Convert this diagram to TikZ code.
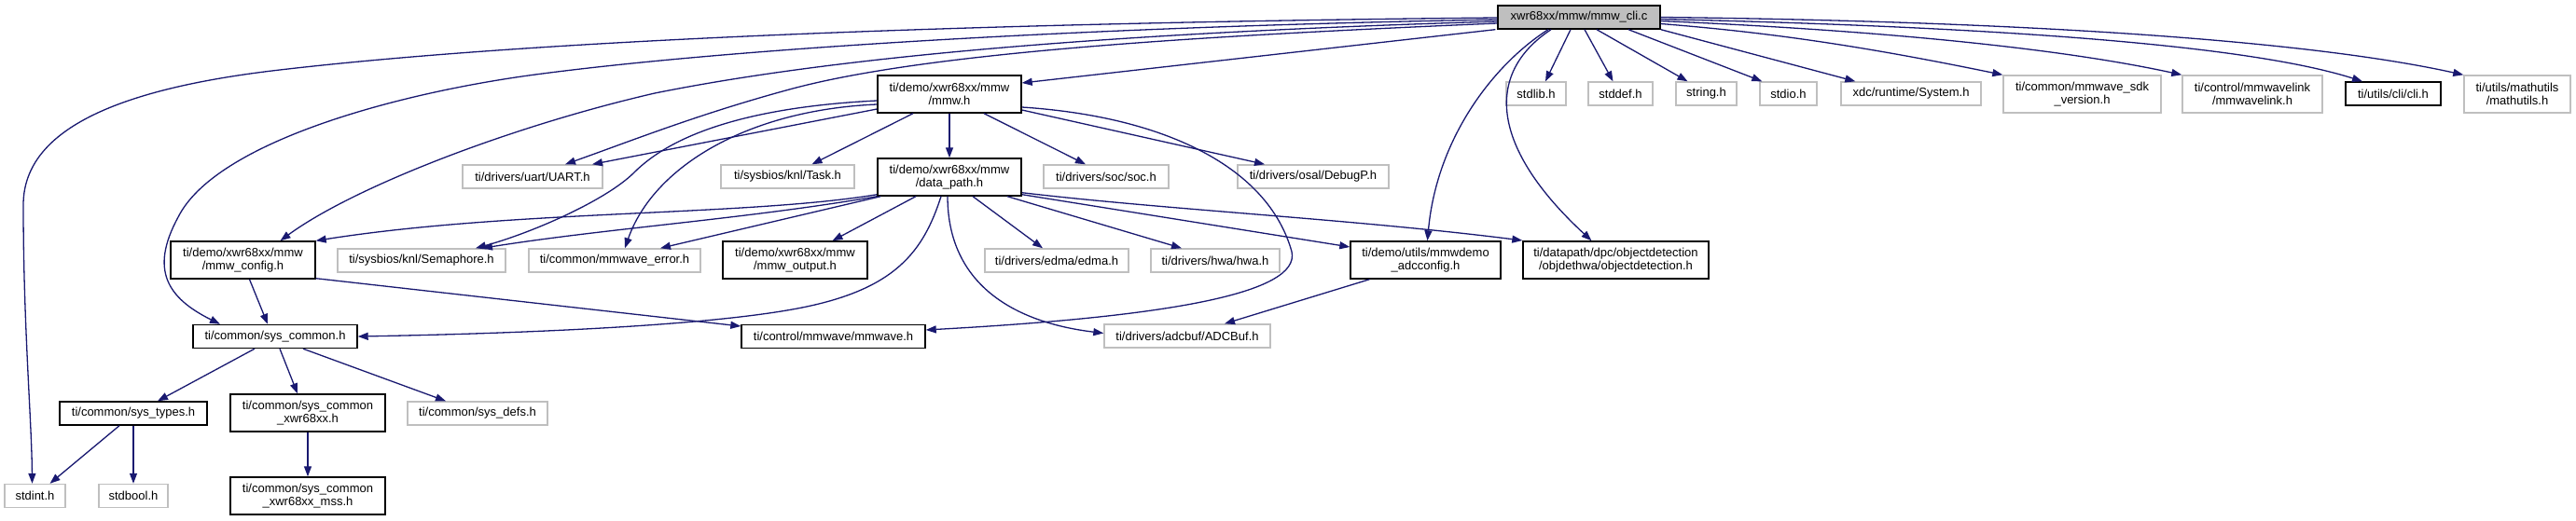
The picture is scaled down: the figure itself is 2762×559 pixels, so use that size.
\documentclass[tikz,border=0pt]{standalone}
\usepackage{fontspec}
\setmainfont{Liberation Sans}
\usetikzlibrary{arrows.meta,calc}
\definecolor{edgecol}{HTML}{191970}
\definecolor{greyb}{HTML}{BFBFBF}
\tikzset{
  box/.style={draw, line width=1.4pt, inner sep=0pt, align=center, fill=white,
    font=\fontsize{13}{14.5}\selectfont, text=black},
  doc/.style={box, draw=black},
  ext/.style={box, draw=greyb},
  root/.style={box, draw=black, fill=greyb},
  edge/.style={draw=edgecol, line width=1.3pt, -{Triangle[length=11pt,width=8pt]}},
}
\begin{document}
\begin{tikzpicture}[x=1pt,y=-1pt]
\useasboundingbox (0,0) rectangle (2762,559);
% row 0
\node[root, minimum width=174pt, minimum height=25pt] (cli) at (1693,18.5) {xwr68xx/mmw/mmw\_cli.c};
% row 1
\node[ext, minimum width=64pt, minimum height=25pt] (stdlib) at (1647,100.5) {stdlib.h};
\node[ext, minimum width=69pt, minimum height=25pt] (stddef) at (1737.5,100.5) {stddef.h};
\node[ext, minimum width=65pt, minimum height=25pt] (string) at (1829.5,100.5) {string.h};
\node[ext, minimum width=61pt, minimum height=25pt] (stdio) at (1917.5,100.5) {stdio.h};
\node[ext, minimum width=150pt, minimum height=25pt] (system) at (2049,100.5) {xdc/runtime/System.h};
\node[ext, minimum width=169pt, minimum height=40pt] (sdkver) at (2232.5,101) {ti/common/mmwave\_sdk\\\_version.h};
\node[ext, minimum width=150pt, minimum height=40pt] (mmwlink) at (2415,101) {ti/control/mmwavelink\\/mmwavelink.h};
\node[doc, minimum width=102pt, minimum height=25pt] (clih) at (2566,100.5) {ti/utils/cli/cli.h};
\node[ext, minimum width=114pt, minimum height=40pt] (mathutils) at (2699,101) {ti/utils/mathutils\\/mathutils.h};
\node[doc, minimum width=154pt, minimum height=40pt] (mmw) at (1018,101) {ti/demo/xwr68xx/mmw\\/mmw.h};
% row 2
\node[ext, minimum width=150pt, minimum height=25pt] (uart) at (571,189.5) {ti/drivers/uart/UART.h};
\node[ext, minimum width=143pt, minimum height=25pt] (task) at (844.5,189.5) {ti/sysbios/knl/Task.h};
\node[doc, minimum width=154pt, minimum height=40pt] (datapath) at (1018,190) {ti/demo/xwr68xx/mmw\\/data\_path.h};
\node[ext, minimum width=134pt, minimum height=25pt] (soc) at (1186,189.5) {ti/drivers/soc/soc.h};
\node[ext, minimum width=162pt, minimum height=25pt] (debugp) at (1408,189.5) {ti/drivers/osal/DebugP.h};
% row 3
\node[doc, minimum width=155pt, minimum height=40pt] (mmwconfig) at (260.5,279) {ti/demo/xwr68xx/mmw\\/mmw\_config.h};
\node[ext, minimum width=180pt, minimum height=25pt] (semaphore) at (452,279.5) {ti/sysbios/knl/Semaphore.h};
\node[ext, minimum width=184pt, minimum height=25pt] (mmwerr) at (659,279.5) {ti/common/mmwave\_error.h};
\node[doc, minimum width=155pt, minimum height=40pt] (mmwoutput) at (852.5,279) {ti/demo/xwr68xx/mmw\\/mmw\_output.h};
\node[ext, minimum width=154pt, minimum height=25pt] (edma) at (1133,279.5) {ti/drivers/edma/edma.h};
\node[ext, minimum width=138pt, minimum height=25pt] (hwa) at (1303,279.5) {ti/drivers/hwa/hwa.h};
\node[doc, minimum width=161pt, minimum height=40pt] (adcconfig) at (1528.5,279) {ti/demo/utils/mmwdemo\\\_adcconfig.h};
\node[doc, minimum width=199pt, minimum height=40pt] (objdet) at (1732.5,279) {ti/datapath/dpc/objectdetection\\/objdethwa/objectdetection.h};
% row 4
\node[doc, minimum width=176pt, minimum height=25pt] (syscommon) at (295,361) {ti/common/sys\_common.h};
\node[doc, minimum width=197pt, minimum height=25pt] (mmwave) at (893.5,361) {ti/control/mmwave/mmwave.h};
\node[ext, minimum width=178pt, minimum height=25pt] (adcbuf) at (1273,360.5) {ti/drivers/adcbuf/ADCBuf.h};
% row 5
\node[doc, minimum width=158pt, minimum height=25pt] (systypes) at (143,443.5) {ti/common/sys\_types.h};
\node[doc, minimum width=166pt, minimum height=40pt] (scx) at (330,443) {ti/common/sys\_common\\\_xwr68xx.h};
\node[ext, minimum width=150pt, minimum height=25pt] (sysdefs) at (512,443.5) {ti/common/sys\_defs.h};
% row 6
\node[ext, minimum width=65pt, minimum height=25pt] (stdint) at (37.5,532) {stdint.h};
\node[ext, minimum width=74pt, minimum height=25pt] (stdbool) at (143,532) {stdbool.h};
\node[doc, minimum width=166pt, minimum height=40pt] (scmss) at (330,532) {ti/common/sys\_common\\\_xwr68xx\_mss.h};

% edges from cli
\draw[edge] ($(cli.west)+(0,0.5)$) .. controls (1100,24) and (600,40) .. (300,75) .. controls (100,98) and (25,150) .. (25,220) .. controls (25,350) and (34,450) .. ($(stdint.north)+(-3,0)$);
\draw[edge] ($(cli.west)+(0,2.5)$) .. controls (1200,28) and (800,50) .. (574,80) .. controls (424,100) and (231,153) .. (191,233) .. controls (160,290) and (180,320) .. ($(syscommon.north)+(-59,0)$);
\draw[edge] ($(cli.west)+(0,4.5)$) .. controls (1200,35) and (900,60) .. (702,100) .. controls (550,135) and (380,200) .. ($(mmwconfig.north)+(40,0)$);
\draw[edge] ($(cli.west)+(0,6.5)$) .. controls (1300,38) and (1000,55) .. (850,95) .. controls (750,122) and (680,150) .. ($(uart.north)+(35,0)$);
\draw[edge] ($(cli.south west)+(-2,0)$) -- ($(mmw.east)+(0,-12)$);
\draw[edge] ($(cli.south)+(-33,0)$) .. controls (1600,70) and (1540,150) .. ($(adcconfig.north)+(2,0)$);
\draw[edge] ($(cli.south)+(-30,0)$) .. controls (1590,80) and (1600,160) .. ($(objdet.north)+(-26,0)$);
\draw[edge] ($(cli.south)+(-9,0)$) -- ($(stdlib.north)+(10,0)$);
\draw[edge] ($(cli.south)+(6,0)$) -- ($(stddef.north)+(-8,0)$);
\draw[edge] ($(cli.south)+(19,0)$) -- ($(string.north)+(-20,0)$);
\draw[edge] ($(cli.south)+(53,0)$) -- ($(stdio.north west)+(3,0)$);
\draw[edge] (cli.south east) -- ($(system.north west)+(16,0)$);
\draw[edge] ($(cli.east)+(0,7)$) .. controls (1900,35) and (2000,50) .. (sdkver.north west);
\draw[edge] ($(cli.east)+(0,4)$) .. controls (2000,32) and (2200,50) .. (mmwlink.north west);
\draw[edge] ($(cli.east)+(0,2)$) .. controls (2100,28) and (2400,45) .. ($(clih.north)+(-33,0)$);
\draw[edge] (cli.east) .. controls (2100,22) and (2450,38) .. (mathutils.north west);

% edges from mmw.h
\draw[edge] ($(mmw.west)+(0,16)$) -- ($(uart.north)+(64,0)$);
\draw[edge] ($(mmw.south)+(-39,0)$) -- ($(task.north)+(26,0)$);
\draw[edge] (mmw.south) -- (datapath.north);
\draw[edge] ($(mmw.west)+(0,7)$) .. controls (800,115) and (720,145) .. (680,185) .. controls (650,215) and (570,250) .. ($(semaphore.north)+(58,0)$);
\draw[edge] ($(mmw.west)+(0,11)$) .. controls (800,118) and (700,180) .. ($(mmwerr.north)+(11,0)$);
\draw[edge] ($(mmw.south)+(37,0)$) -- ($(soc.north)+(-22,0)$);
\draw[edge] ($(mmw.east)+(0,17)$) -- ($(debugp.north)+(-52,0)$);
\draw[edge] ($(mmw.east)+(0,14)$) .. controls (1250,125) and (1360,180) .. (1385,270) .. controls (1395,315) and (1250,340) .. ($(mmwave.east)+(0,-7)$);

% edges from data_path.h
\draw[edge] ($(datapath.south west)+(0,-2)$) .. controls (800,232) and (550,225) .. (mmwconfig.north east);
\draw[edge] (datapath.south west) .. controls (800,235) and (650,245) .. ($(semaphore.north)+(65,0)$);
\draw[edge] ($(datapath.south west)+(4,0)$) -- ($(mmwerr.north)+(49,0)$);
\draw[edge] ($(datapath.south)+(-36,0)$) -- ($(mmwoutput.north)+(40,0)$);
\draw[edge] ($(datapath.south)+(-9,0)$) .. controls (990,270) and (960,310) .. (860,330) .. controls (760,350) and (550,358) .. (syscommon.east);
\draw[edge] ($(datapath.south)+(-2,0)$) .. controls (1016,300) and (1080,345) .. ($(adcbuf.west)+(0,-3)$);
\draw[edge] ($(datapath.south)+(25,0)$) -- ($(edma.north)+(-15,0)$);
\draw[edge] ($(datapath.south)+(62,0)$) -- ($(hwa.north)+(-36,0)$);
\draw[edge] ($(datapath.south east)+(0,-2)$) -- ($(adcconfig.west)+(0,-14)$);
\draw[edge] ($(datapath.south east)+(0,-4)$) .. controls (1250,225) and (1450,235) .. ($(objdet.west)+(0,-21)$);

% others
\draw[edge] ($(mmwconfig.south)+(7,0)$) -- ($(syscommon.north)+(-8,0)$);
\draw[edge] ($(mmwconfig.south east)+(0,-1)$) -- ($(mmwave.west)+(0,-11)$);
\draw[edge] ($(adcconfig.south)+(-60,0)$) -- ($(adcbuf.north)+(40,0)$);
\draw[edge] ($(syscommon.south)+(-22,0)$) -- ($(systypes.north)+(26,0)$);
\draw[edge] ($(syscommon.south)+(5,0)$) -- ($(scx.north)+(-11,0)$);
\draw[edge] ($(syscommon.south)+(30,0)$) -- ($(sysdefs.north)+(-34,0)$);
\draw[edge] ($(systypes.south)+(-15,0)$) -- ($(stdint.north)+(16,0)$);
\draw[edge] (systypes.south) -- (stdbool.north);
\draw[edge] (scx.south) -- (scmss.north);
\end{tikzpicture}
\end{document}
